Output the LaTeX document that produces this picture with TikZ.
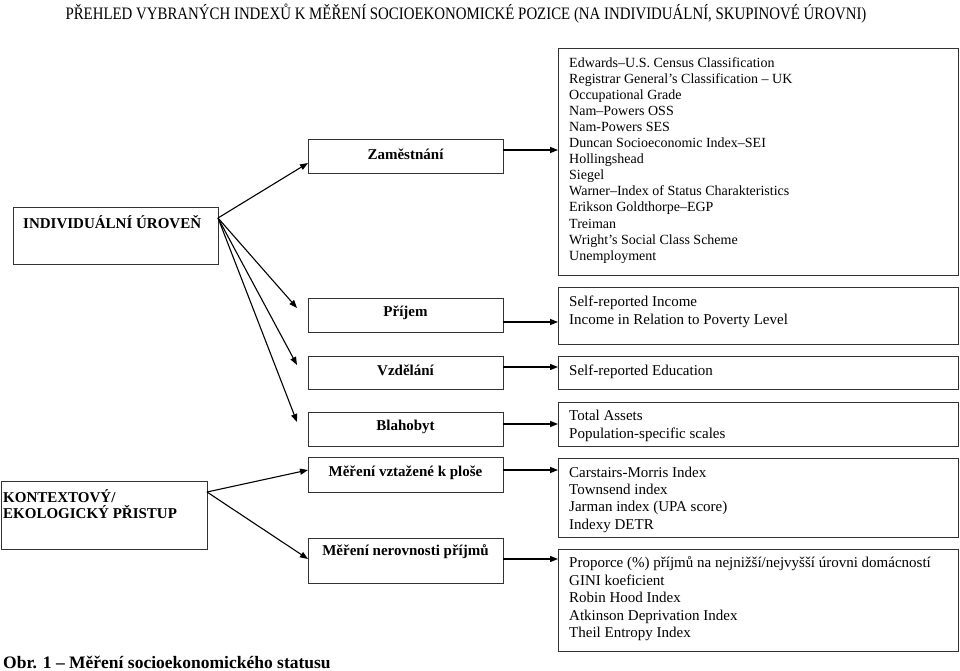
\documentclass[tikz,border=0pt]{standalone}
\usepackage{graphicx}
\usepackage{fontspec}
\setmainfont{Liberation Serif}
\usetikzlibrary{arrows.meta}
\begin{document}
\begin{tikzpicture}[x=1pt,y=-1pt,
  box/.style={draw=black!80, line width=0.9pt, anchor=north west, inner sep=0pt, outer sep=0pt, minimum width=#1},
  box/.default=195pt,
  lbl/.style={font=\fontsize{15}{16}\selectfont\bfseries, inner sep=0pt},
  lsttop/.style={font=\fontsize{14}{16.1}\selectfont, align=left, anchor=north west, inner sep=0pt},
  lst/.style={font=\fontsize{15}{#1}\selectfont, align=left, anchor=north west, inner sep=0pt},
  lst/.default=17.5pt,
  arr/.style={line width=1.1pt, -{Triangle[length=8pt,width=6pt]}}]
\useasboundingbox (0,0) rectangle (960,670);

% title
\node[font=\fontsize{17.5}{20}\selectfont, inner sep=0pt] (title) at (466,14)
  {\resizebox{801pt}{\height}{PŘEHLED VYBRANÝCH INDEXŮ K MĚŘENÍ SOCIOEKONOMICKÉ POZICE (NA INDIVIDUÁLNÍ, SKUPINOVÉ ÚROVNI)}};

% left boxes
\node[box=205pt, minimum height=57pt] (ind) at (13,207) {};
\node[lbl, anchor=west] (indt) at (23,222) {INDIVIDUÁLNÍ ÚROVEŇ};
\node[box=206pt, minimum height=68pt] (kon) at (1,481) {};
\node[lbl, anchor=west, align=left] (kont) at (3,504) {KONTEXTOVÝ/\\EKOLOGICKÝ PŘISTUP};

% middle boxes
\node[box, minimum height=34pt] (zam) at (308,139) {};
\node[lbl] (zamt) at (405.5,154) {Zaměstnání};
\node[box, minimum height=34pt] (pri) at (308,298) {};
\node[lbl] (prit) at (405.5,313) {Příjem};
\node[box, minimum height=33pt] (vzd) at (308,356) {};
\node[lbl] (vzdt) at (405.5,370) {Vzdělání};
\node[box, minimum height=34pt] (bla) at (308,412) {};
\node[lbl] (blat) at (405.5,427) {Blahobyt};
\node[box, minimum height=35pt] (mvz) at (308,457) {};
\node[lbl] (mvzt) at (405.5,473) {Měření vztažené k ploše};
\node[box, minimum height=45pt] (mne) at (308,538) {};
\node[lbl] (mnet) at (405.5,552) {Měření nerovnosti příjmů};

% right boxes
\node[box=400pt, minimum height=227pt] (r1) at (558,48) {};
\node[lsttop] (r1t) at (569,57) {Edwards–U.S. Census Classification\\
Registrar General’s Classification – UK\\
Occupational Grade\\
Nam–Powers OSS\\
Nam-Powers SES\\
Duncan Socioeconomic Index–SEI\\
Hollingshead\\
Siegel\\
Warner–Index of Status Charakteristics\\
Erikson Goldthorpe–EGP\\
Treiman\\
Wright’s Social Class Scheme\\
Unemployment};
\node[box=400pt, minimum height=57pt] (r2) at (558,287) {};
\node[lst=18pt] (r2t) at (569,295.5) {Self-reported Income\\Income in Relation to Poverty Level};
\node[box=400pt, minimum height=33pt] (r3) at (558,356) {};
\node[lst] (r3t) at (569,364.5) {Self-reported Education};
\node[box=400pt, minimum height=44pt] (r4) at (558,402) {};
\node[lst=18pt] (r4t) at (569,409.5) {Total Assets\\Population-specific scales};
\node[box=400pt, minimum height=79pt] (r5) at (558,458) {};
\node[lst=17.3pt] (r5t) at (569,466.5) {Carstairs-Morris Index\\Townsend index\\Jarman index (UPA score)\\Indexy DETR};
\node[box=400pt, minimum height=102pt] (r6) at (558,549) {};
\node[lst=17.5pt] (r6t) at (569,556.5) {Proporce (\%) příjmů na nejnižší/nejvyšší úrovni domácností\\GINI koeficient\\Robin Hood Index\\Atkinson Deprivation Index\\Theil Entropy Index};

% caption
\node[font=\fontsize{17.5}{20}\selectfont\bfseries, anchor=base west, inner sep=0pt] (cap) at (3,668) {Obr. 1 – Měření socioekonomického statusu};

% free arrow ends
\coordinate (ep) at (297,308);
\coordinate (ev) at (297,365);
\coordinate (eb) at (297,422);

% arrows from left boxes
\draw[arr] (ind.east |- 0,218) -- (zam.west |- 0,163);
\draw[arr] (ind.east |- 0,218) -- (ep);
\draw[arr] (ind.east |- 0,218) -- (ev);
\draw[arr] (ind.east |- 0,218) -- (eb);
\draw[arr] (kon.east |- 0,492) -- (mvz.west |- 0,470);
\draw[arr] (kon.east |- 0,492) -- (mne.west |- 0,559);

% horizontal arrows
\draw[arr] (zam.east |- 0,150) -- (r1.west |- 0,150);
\draw[arr] (pri.east |- 0,322) -- (r2.west |- 0,322);
\draw[arr] (vzd.east |- 0,367) -- (r3.west |- 0,367);
\draw[arr] (bla.east |- 0,424) -- (r4.west |- 0,424);
\draw[arr] (mvz.east |- 0,470) -- (r5.west |- 0,470);
\draw[arr] (mne.east |- 0,559) -- (r6.west |- 0,559);
\end{tikzpicture}
\end{document}
